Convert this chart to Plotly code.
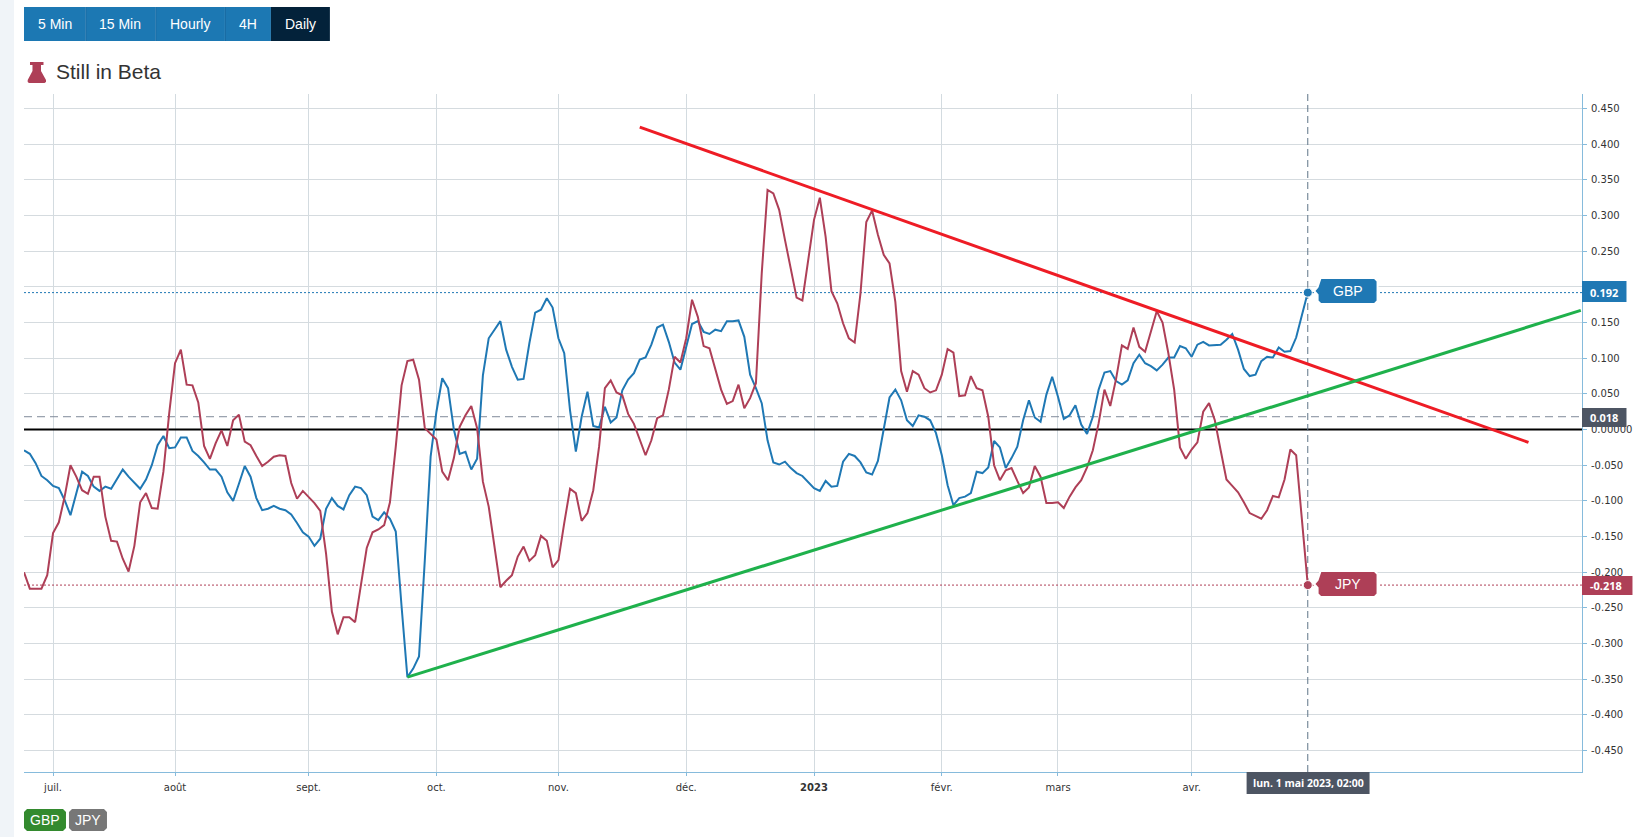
import pandas as pd
import plotly.graph_objects as go

W, H = 1633, 837
PLOT_L, PLOT_R, PLOT_T, PLOT_B = 24, 1582.5, 94, 772

GBP_COLOUR = "#1f78b4"
JPY_COLOUR = "#ae3f57"
AXIS_COLOUR = "#86bbdc"
TEXT_FONT = "Liberation Sans"
TICK_FONT = "DejaVu Sans"

gbp = [
    -0.029, -0.034, -0.047, -0.065, -0.071, -0.079, -0.082, -0.099, -0.120, -0.089,
    -0.059, -0.065, -0.080, -0.086, -0.080, -0.083, -0.070, -0.056, -0.066, -0.075,
    -0.083, -0.070, -0.050, -0.022, -0.009, -0.026, -0.025, -0.011, -0.011, -0.030,
    -0.037, -0.046, -0.056, -0.056, -0.066, -0.088, -0.100, -0.076, -0.051, -0.066,
    -0.096, -0.113, -0.111, -0.107, -0.111, -0.113, -0.119, -0.131, -0.144, -0.150,
    -0.163, -0.153, -0.111, -0.096, -0.107, -0.112, -0.092, -0.080, -0.082, -0.092,
    -0.122, -0.127, -0.116, -0.125, -0.143, -0.248, -0.347, -0.335, -0.318, -0.183,
    -0.038, 0.025, 0.072, 0.058, 0.000, -0.034, -0.031, -0.056, -0.041, 0.076,
    0.128, 0.140, 0.152, 0.112, 0.088, 0.070, 0.071, 0.121, 0.164, 0.168,
    0.184, 0.171, 0.128, 0.107, 0.027, -0.031, 0.018, 0.053, 0.005, 0.003,
    0.032, 0.010, 0.017, 0.055, 0.070, 0.079, 0.098, 0.101, 0.119, 0.143,
    0.147, 0.123, 0.094, 0.084, 0.114, 0.148, 0.152, 0.137, 0.134, 0.140,
    0.138, 0.152, 0.152, 0.153, 0.130, 0.077, 0.058, 0.037, -0.015, -0.046,
    -0.049, -0.045, -0.054, -0.061, -0.065, -0.073, -0.082, -0.086, -0.072, -0.080,
    -0.079, -0.045, -0.034, -0.037, -0.046, -0.060, -0.063, -0.044, 0.002, 0.045,
    0.056, 0.041, 0.013, 0.005, 0.020, 0.018, 0.013, -0.005, -0.036, -0.078,
    -0.106, -0.096, -0.094, -0.089, -0.059, -0.061, -0.053, -0.016, -0.025, -0.054,
    -0.040, -0.024, 0.013, 0.041, 0.017, 0.011, 0.049, 0.074, 0.046, 0.015,
    0.020, 0.034, 0.007, -0.006, 0.018, 0.056, 0.080, 0.082, 0.068, 0.063,
    0.069, 0.093, 0.105, 0.093, 0.089, 0.083, 0.091, 0.101, 0.101, 0.117,
    0.114, 0.102, 0.119, 0.123, 0.118, 0.119, 0.119, 0.126, 0.134, 0.112,
    0.085, 0.075, 0.077, 0.096, 0.102, 0.101, 0.115, 0.109, 0.110, 0.129,
    0.161, 0.192,
]

jpy = [
    -0.200, -0.223, -0.223, -0.223, -0.204, -0.145, -0.130, -0.094, -0.050, -0.066,
    -0.085, -0.090, -0.066, -0.066, -0.122, -0.156, -0.157, -0.181, -0.199, -0.163,
    -0.102, -0.089, -0.110, -0.111, -0.059, 0.023, 0.093, 0.112, 0.063, 0.062,
    0.038, -0.023, -0.041, -0.019, -0.001, -0.023, 0.013, 0.021, -0.017, -0.022,
    -0.037, -0.051, -0.045, -0.038, -0.036, -0.037, -0.075, -0.097, -0.086, -0.094,
    -0.103, -0.114, -0.174, -0.255, -0.287, -0.263, -0.263, -0.270, -0.220, -0.166,
    -0.144, -0.140, -0.134, -0.102, -0.024, 0.062, 0.096, 0.098, 0.070, 0.002,
    -0.006, -0.014, -0.059, -0.071, -0.040, 0.004, 0.020, 0.033, 0.002, -0.073,
    -0.108, -0.164, -0.221, -0.212, -0.204, -0.178, -0.164, -0.184, -0.176, -0.149,
    -0.156, -0.193, -0.183, -0.131, -0.083, -0.089, -0.128, -0.117, -0.085, -0.024,
    0.058, 0.069, 0.052, 0.048, 0.022, 0.008, -0.014, -0.036, -0.015, 0.016,
    0.020, 0.056, 0.102, 0.094, 0.128, 0.182, 0.158, 0.117, 0.114, 0.084,
    0.056, 0.036, 0.040, 0.063, 0.030, 0.044, 0.065, 0.219, 0.336, 0.331,
    0.308, 0.266, 0.226, 0.185, 0.181, 0.238, 0.294, 0.325, 0.270, 0.194,
    0.177, 0.149, 0.128, 0.122, 0.191, 0.291, 0.307, 0.273, 0.245, 0.233,
    0.179, 0.082, 0.053, 0.082, 0.077, 0.058, 0.052, 0.055, 0.077, 0.113,
    0.108, 0.047, 0.048, 0.075, 0.058, 0.055, 0.018, -0.050, -0.071, -0.057,
    -0.054, -0.072, -0.089, -0.081, -0.051, -0.066, -0.103, -0.103, -0.102, -0.110,
    -0.094, -0.081, -0.071, -0.053, -0.029, 0.009, 0.056, 0.033, 0.071, 0.118,
    0.113, 0.143, 0.116, 0.109, 0.137, 0.166, 0.150, 0.107, 0.056, -0.025,
    -0.041, -0.028, -0.018, 0.025, 0.037, 0.013, -0.029, -0.070, -0.079, -0.088,
    -0.102, -0.117, -0.121, -0.125, -0.113, -0.093, -0.095, -0.070, -0.028, -0.036,
    -0.127, -0.218,
]

# weekdays only, the chart has no gaps for weekends
dates = pd.bdate_range("2022-06-24", periods=len(gbp))

red_dates = ["2022-11-21", "2023-06-22"]
red_vals = [0.424, -0.018]
green_dates = ["2022-09-26", "2023-07-05"]
green_vals = [-0.347, 0.167]
spread_level = 0.018

x_range = ["2022-06-24", "2023-07-05 05:00"]
y_range = [-0.48, 0.4704]

month_ticks = ["2022-07-01", "2022-08-01", "2022-09-01", "2022-10-03", "2022-11-01",
               "2022-12-01", "2023-01-02", "2023-02-01", "2023-03-01", "2023-04-03"]
month_labels = ["juil.", "août", "sept.", "oct.", "nov.", "déc.", "<b>2023</b>",
                "févr.", "mars", "avr."]

y_ticks = [-0.45, -0.40, -0.35, -0.30, -0.25, -0.20, -0.15, -0.10, -0.05, 0.0,
           0.05, 0.10, 0.15, 0.20, 0.25, 0.30, 0.35, 0.40, 0.45]
y_labels = ["-0.450", "-0.400", "-0.350", "-0.300", "-0.250", "-0.200", "-0.150",
            "-0.100", "-0.050", "0.00000", "0.050", "0.100", "0.150", "0.200",
            "0.250", "0.300", "0.350", "0.400", "0.450"]

buttons = ["5 Min", "15 Min", "Hourly", "4H", "Daily"]
button_edges = [24, 85.5, 155.5, 225, 271, 330]


def px(x):
    return (x - PLOT_L) / (PLOT_R - PLOT_L)


def py(y):
    return 1 - (y - PLOT_T) / (PLOT_B - PLOT_T)


def rect(fig, x0, y0, x1, y1, colour):
    fig.add_shape(type="rect", xref="paper", yref="paper", x0=px(x0), x1=px(x1),
                  y0=py(y0), y1=py(y1), fillcolor=colour, line_width=0, layer="above")


def poly(fig, points, colour, line=None):
    path = "M" + " L".join(f"{px(x):.5f},{py(y):.5f}" for x, y in points) + " Z"
    fig.add_shape(type="path", xref="paper", yref="paper", path=path, fillcolor=colour,
                  line=dict(color=line or colour, width=2 if line else 0), layer="above")


def rounded(x0, y0, x1, y1, r=3):
    return [(x0 + r, y0), (x1 - r, y0), (x1, y0 + r), (x1, y1 - r), (x1 - r, y1),
            (x0 + r, y1), (x0, y1 - r), (x0, y0 + r)]


def label(fig, x, y, text, size=14, colour="white", font=TEXT_FONT, anchor="center"):
    fig.add_annotation(xref="paper", yref="paper", x=px(x), y=py(y), text=text,
                       showarrow=False, xanchor=anchor, yanchor="middle",
                       font=dict(family=font, size=size, color=colour),
                       borderpad=0, borderwidth=0)


def level(fig, value, colour, width=1, dash="solid"):
    fig.add_trace(go.Scatter(x=x_range, y=[value, value], mode="lines",
                             line=dict(color=colour, width=width, dash=dash)))


fig = go.Figure()

level(fig, 0, "black", width=2)
level(fig, spread_level, "#7f8a99", dash="8px,5px")
level(fig, gbp[-1], GBP_COLOUR, dash="2px,2px")
level(fig, jpy[-1], JPY_COLOUR, dash="2px,2px")
fig.add_trace(go.Scatter(x=[dates[-1], dates[-1]], y=y_range, mode="lines",
                         line=dict(color="#5f7488", width=1, dash="7px,4px")))

fig.add_trace(go.Scatter(x=dates, y=gbp, mode="lines", name="GBP",
                         line=dict(color=GBP_COLOUR, width=2)))
fig.add_trace(go.Scatter(x=dates, y=jpy, mode="lines", name="JPY",
                         line=dict(color=JPY_COLOUR, width=2)))
fig.add_trace(go.Scatter(x=red_dates, y=red_vals, mode="lines",
                         line=dict(color="#ee1c25", width=3)))
fig.add_trace(go.Scatter(x=green_dates, y=green_vals, mode="lines",
                         line=dict(color="#1fb14c", width=3)))
fig.add_trace(go.Scatter(x=[dates[-1]], y=[gbp[-1]], mode="markers",
                         marker=dict(color=GBP_COLOUR, size=9, line=dict(color="white", width=1))))
fig.add_trace(go.Scatter(x=[dates[-1]], y=[jpy[-1]], mode="markers",
                         marker=dict(color=JPY_COLOUR, size=9, line=dict(color="white", width=1))))

# page furniture around the chart
rect(fig, 0, 0, 14, H, "#f0f4f8")
for i, name in enumerate(buttons):
    colour = "#03223a" if name == "Daily" else "#1c78b3"
    rect(fig, button_edges[i], 7, button_edges[i + 1], 41, colour)
    if 0 < i < 4:
        rect(fig, button_edges[i], 7, button_edges[i] + 1, 41, "#1a6ca3")
    label(fig, (button_edges[i] + button_edges[i + 1]) / 2, 24, name)

poly(fig, [(30, 62), (43.5, 62), (43.5, 65), (41, 65), (41, 71), (46, 80), (46, 82), (44.5, 83),
           (29, 83), (27.7, 82), (27.7, 80), (32.5, 71), (32.5, 65), (30, 65)], JPY_COLOUR)
label(fig, 56.5, 71.5, "Still in Beta", size=21, colour="#333333", anchor="left")

# series tags beside the crosshair
for y0, y1, name, colour in [(278, 304, "GBP", GBP_COLOUR), (571, 597, "JPY", JPY_COLOUR)]:
    mid = (y0 + y1) / 2
    poly(fig, [(1314.5, mid), (1318, mid - 4)] + rounded(1318, y0, 1378, y1)[:-1]
         + [(1318, mid + 4)], colour, line="white")
    label(fig, 1348, mid, name)

# value boxes on the right axis
rect(fig, 1582.5, 281, 1627, 302, GBP_COLOUR)
label(fig, 1605, 292.5, f"<b>{gbp[-1]:.3f}</b>", size=11, font="Open Sans")
rect(fig, 1582.5, 408, 1627, 427, "#4d5563")
label(fig, 1605, 417.5, f"<b>{spread_level:.3f}</b>", size=11, font="Open Sans")
rect(fig, 1582.5, 576, 1633, 595, JPY_COLOUR)
label(fig, 1607, 585.5, f"<b>{jpy[-1]:.3f}</b>", size=11, font="Open Sans")

rect(fig, 1247, 772, 1370, 794, "#4d5563")
label(fig, 1308.5, 783, "<b>lun. 1 mai 2023, 02:00</b>", size=10.5, font="Open Sans")

poly(fig, rounded(24, 809, 66, 831), "#338a2e")
label(fig, 45, 820, "GBP")
poly(fig, rounded(69, 809, 107, 831), "#777777")
label(fig, 88, 820, "JPY")

fig.update_layout(
    width=W,
    height=H,
    margin=dict(l=PLOT_L, r=W - PLOT_R, t=PLOT_T, b=H - PLOT_B, pad=0),
    paper_bgcolor="white",
    plot_bgcolor="white",
    showlegend=False,
    hovermode=False,
    xaxis=dict(
        automargin=False,
        range=x_range,
        rangebreaks=[dict(bounds=["sat", "mon"])],
        tickmode="array",
        tickvals=month_ticks,
        ticktext=month_labels,
        tickfont=dict(family=TICK_FONT, size=10, color="#333333"),
        ticks="outside",
        ticklen=3,
        tickcolor=AXIS_COLOUR,
        ticklabelstandoff=3,
        showgrid=True,
        gridcolor="#d3dbe0",
        gridwidth=1,
        showline=True,
        linecolor=AXIS_COLOUR,
        linewidth=1,
        zeroline=False,
    ),
    yaxis=dict(
        automargin=False,
        range=y_range,
        side="right",
        tickmode="array",
        tickvals=y_ticks,
        ticktext=y_labels,
        tickfont=dict(family=TICK_FONT, size=10, color="#333333"),
        ticks="outside",
        ticklen=4,
        tickcolor=AXIS_COLOUR,
        ticklabelstandoff=2,
        showgrid=True,
        gridcolor="#d5dbdf",
        gridwidth=1,
        showline=True,
        linecolor=AXIS_COLOUR,
        linewidth=1,
        zeroline=False,
    ),
)

fig.write_html("out.html", config=dict(displayModeBar=False),
               post_script="document.body.style.margin='0';document.body.style.overflow='hidden';")
